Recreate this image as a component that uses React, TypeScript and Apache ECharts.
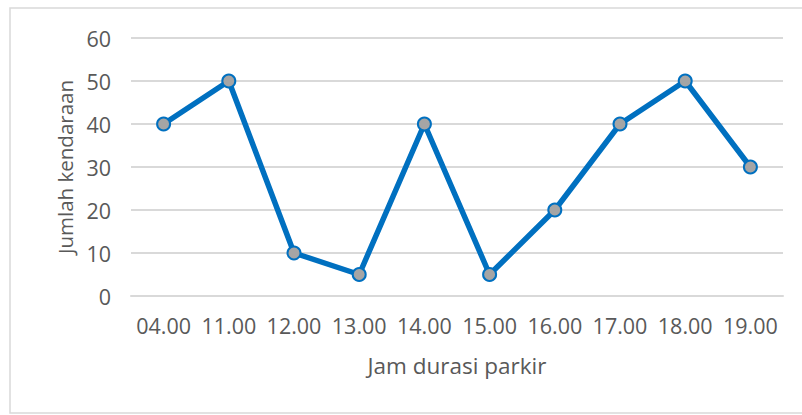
import React, { useEffect, useRef } from "react";
import * as echarts from "echarts";

const categories = ["04.00", "11.00", "12.00", "13.00", "14.00", "15.00", "16.00", "17.00", "18.00", "19.00"];
const values = [40, 50, 10, 5, 40, 5, 20, 40, 50, 30];
const yTicks = { min: 0, max: 60, interval: 10 };
const xName = "Jam durasi parkir";
const yName = "Jumlah kendaraan";

export default function App() {
  const ref = useRef<HTMLDivElement>(null);
  useEffect(() => {
    document.body.style.margin = "0";
    const chart = echarts.init(ref.current!, null, { renderer: "svg" });
    const font = "'Open Sans', sans-serif";
    chart.setOption({
      animation: false,
      backgroundColor: "#ffffff",
      textStyle: { fontFamily: font },
      graphic: [
        {
          type: "rect",
          shape: { x: 10, y: 8, width: 800, height: 405 },
          style: { fill: "none", stroke: "#D9D9D9", lineWidth: 1.5 },
          silent: true,
        },
      ],
      grid: { left: 131, right: 19, top: 38, bottom: 119 },
      xAxis: {
        type: "category",
        data: categories,
        boundaryGap: true,
        name: xName,
        nameLocation: "middle",
        nameGap: 58,
        nameTextStyle: { color: "#595959", fontSize: 22.5, fontFamily: font },
        axisLine: { show: true, lineStyle: { color: "#D9D9D9", width: 2 } },
        axisTick: { show: false },
        axisLabel: { color: "#595959", fontSize: 21.5, margin: 18, interval: 0, hideOverlap: false, fontFamily: font },
      },
      yAxis: {
        type: "value",
        min: yTicks.min,
        max: yTicks.max,
        interval: yTicks.interval,
        name: yName,
        nameLocation: "middle",
        nameGap: 56,
        nameTextStyle: { color: "#595959", fontSize: 20.5, fontFamily: font },
        axisLine: { show: false },
        axisTick: { show: false },
        axisLabel: { color: "#595959", fontSize: 21.5, margin: 20, fontFamily: font },
        splitLine: { lineStyle: { color: "#D9D9D9", width: 2 } },
      },
      series: [
        {
          type: "line",
          data: values,
          symbol: "circle",
          symbolSize: 13,
          lineStyle: { color: "#0070C0", width: 5.5 },
          itemStyle: { color: "#A5A5A5", borderColor: "#0070C0", borderWidth: 2 },
        },
      ],
    });
    return () => chart.dispose();
  }, []);
  return <div ref={ref} style={{ width: 802, height: 415 }} />;
}
